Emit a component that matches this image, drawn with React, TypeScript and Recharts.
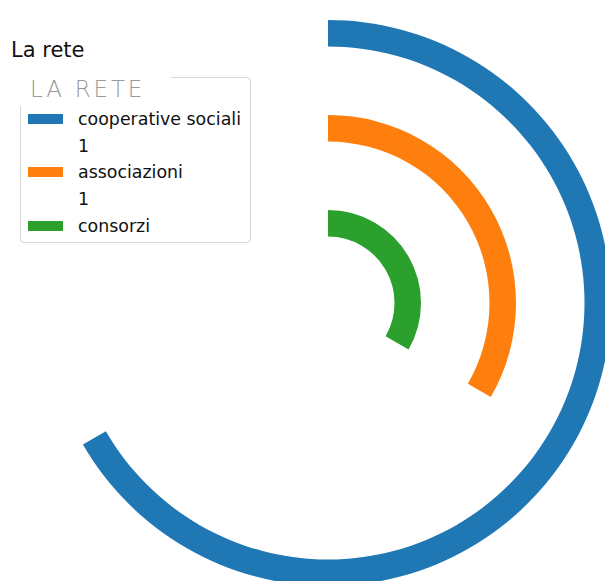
import { RadialBarChart, RadialBar, PolarAngleAxis, PolarRadiusAxis, Cell } from "recharts";

const categories = ["cooperative sociali", "associazioni", "consorzi"];
const counts = [2, 1, 1];
const colors = ["#1f77b4", "#ff7f0e", "#2ca02c"];
const legendRows = ["cooperative sociali", "1", "associazioni", "1", "consorzi"];
const angleMax = 3;

// recharts puts the first entry on the innermost ring
const data = categories
  .map((name, i) => ({ name, value: counts[i], color: colors[i] }))
  .reverse();

const font = "'DejaVu Sans', sans-serif";

function Legend() {
  return (
    <div
      style={{
        position: "absolute",
        left: 20,
        top: 77,
        width: 229,
        height: 164,
        border: "1px solid #d8d8d8",
        borderRadius: 4,
        fontFamily: font,
        fontSize: 17.4,
        color: "#111",
      }}
    >
      <div
        style={{
          position: "absolute",
          left: -2,
          top: -2,
          width: 152,
          height: 30,
          background: "#fff",
        }}
      />
      <div
        style={{
          position: "absolute",
          left: 9,
          top: -2,
          fontSize: 23,
          letterSpacing: 2.8,
          color: "#9a9a9a",
          fontWeight: 300,
          whiteSpace: "nowrap",
        }}
      >
        LA RETE
      </div>
      {legendRows.map((label, i) => {
        const ci = categories.indexOf(label);
        return (
          <div
            key={i}
            style={{
              position: "absolute",
              left: 0,
              top: 41 - 11 + i * 26.7,
              height: 22,
              display: "flex",
              alignItems: "center",
              whiteSpace: "nowrap",
            }}
          >
            <div
              style={{
                width: 35,
                height: 10,
                marginLeft: 7,
                marginRight: 15,
                background: ci >= 0 ? colors[ci] : "transparent",
              }}
            />
            <span>{label}</span>
          </div>
        );
      })}
    </div>
  );
}

export default function App() {
  return (
    <div style={{ position: "absolute", left: 0, top: 0, width: 605, height: 581, background: "#fff", overflow: "hidden" }}>
      <RadialBarChart
        width={605}
        height={581}
        cx={328}
        cy={303}
        innerRadius={32.5}
        outerRadius={317.5}
        barSize={26.5}
        startAngle={90}
        endAngle={-270}
        data={data}
        margin={{ top: 0, right: 0, bottom: 0, left: 0 }}
      >
        <PolarAngleAxis type="number" domain={[0, angleMax]} tick={false} axisLine={false} />
        <PolarRadiusAxis type="category" dataKey="name" tick={false} axisLine={false} />
        <RadialBar dataKey="value" isAnimationActive={false}>
          {data.map((d) => (
            <Cell key={d.name} fill={d.color} />
          ))}
        </RadialBar>
      </RadialBarChart>
      <div
        style={{
          position: "absolute",
          left: 11,
          top: 38,
          fontFamily: font,
          fontSize: 21,
          color: "#111",
          whiteSpace: "nowrap",
        }}
      >
        La rete
      </div>
      <Legend />
    </div>
  );
}
